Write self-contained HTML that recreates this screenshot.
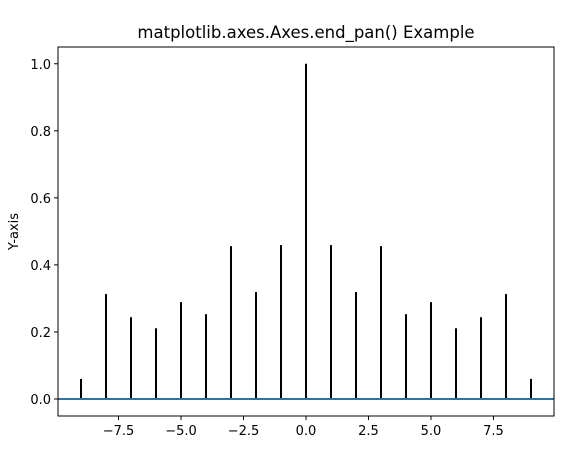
<!DOCTYPE html>
<html><head><meta charset="utf-8"><style>
body{margin:0;background:#fff;}
svg text{font-family:"DejaVu Sans","Liberation Sans",sans-serif;fill:#000;}
</style></head><body>
<svg id="chart" width="570" height="461" viewBox="0 0 570 461" xmlns="http://www.w3.org/2000/svg">
<rect width="570" height="461" fill="#fff"/>
<text x="306" y="38" font-size="16.5" text-anchor="middle">matplotlib.axes.Axes.end_pan() Example</text>
<text transform="translate(18,231.5) rotate(-90)" font-size="13" text-anchor="middle">Y-axis</text>
<g id="marks"></g>
<g id="axes"></g>
</svg>
<script>
const lags = [-9,-8,-7,-6,-5,-4,-3,-2,-1,0,1,2,3,4,5,6,7,8,9];
const corr = [0.06,0.313,0.244,0.211,0.289,0.253,0.456,0.319,0.459,1.0,0.459,0.319,0.456,0.253,0.289,0.211,0.244,0.313,0.06];
const xTicks = [-7.5,-5.0,-2.5,0.0,2.5,5.0,7.5];
const yTicks = [0.0,0.2,0.4,0.6,0.8,1.0];

const L=58,R=554,T=47,B=416;
const xMin=-9.92,xMax=9.92,yMin=-0.0507,yMax=1.05;
const sx=v=>L+(v-xMin)/(xMax-xMin)*(R-L);
const sy=v=>B-(v-yMin)/(yMax-yMin)*(B-T);
const NS="http://www.w3.org/2000/svg";
const marks=document.getElementById('marks');
const axes=document.getElementById('axes');
function mk(tag,attrs,parent){const e=document.createElementNS(NS,tag);for(const k in attrs)e.setAttribute(k,attrs[k]);parent.appendChild(e);return e;}

lags.forEach((lag,i)=>{
  const l=mk('line',{x1:sx(lag),x2:sx(lag),y1:sy(0),y2:sy(corr[i]),stroke:'#000','stroke-width':2},marks);
  
  
});
const base=mk('line',{x1:L,x2:R,y1:sy(0),y2:sy(0),stroke:'#1f77b4','stroke-width':2},marks);



const frame=mk('rect',{x:L,y:T,width:R-L,height:B-T,fill:'none',stroke:'#000','stroke-width':1},axes);



xTicks.forEach(t=>{
  const x=sx(t);
  const tk=mk('line',{x1:x,x2:x,y1:B,y2:B+4,stroke:'#000','stroke-width':1},axes);
  
  
  const tx=mk('text',{x:x,y:B+19,'font-size':13,'text-anchor':'middle'},axes);
  tx.textContent=(t<0?'\u2212':'')+Math.abs(t).toFixed(1);
  
  
});
yTicks.forEach(t=>{
  const y=sy(t);
  const tk=mk('line',{x1:L-4,x2:L,y1:y,y2:y,stroke:'#000','stroke-width':1},axes);
  
  
  const tx=mk('text',{x:L-7,y:y+5,'font-size':13,'text-anchor':'end'},axes);
  tx.textContent=t.toFixed(1);
  
  
});
</script>
</body></html>
